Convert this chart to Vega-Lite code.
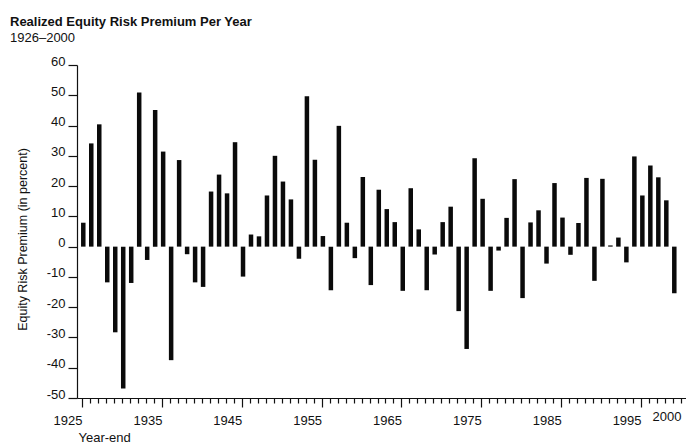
{
  "$schema": "https://vega.github.io/schema/vega-lite/v6.json",
  "autosize": {"type": "none"},
  "padding": {"left": 77, "top": 65, "right": 0, "bottom": 47},
  "width": 609,
  "height": 333,
  "background": "white",
  "view": {"stroke": null},
  "title": {
    "text": "Realized Equity Risk Premium Per Year",
    "subtitle": "1926–2000",
    "anchor": "start",
    "frame": "group",
    "dx": -67,
    "offset": 10,
    "font": "Liberation Sans",
    "fontSize": 13,
    "fontWeight": "bold",
    "color": "#111",
    "subtitleFont": "Liberation Sans",
    "subtitleFontSize": 13,
    "subtitleColor": "#111",
    "subtitlePadding": 3
  },
  "data": {
    "values": [
      {"year": 1926, "premium": 7.9},
      {"year": 1927, "premium": 34.1},
      {"year": 1928, "premium": 40.4},
      {"year": 1929, "premium": -11.8},
      {"year": 1930, "premium": -28.3},
      {"year": 1931, "premium": -46.9},
      {"year": 1932, "premium": -12.0},
      {"year": 1933, "premium": 50.9},
      {"year": 1934, "premium": -4.4},
      {"year": 1935, "premium": 45.1},
      {"year": 1936, "premium": 31.4},
      {"year": 1937, "premium": -37.5},
      {"year": 1938, "premium": 28.6},
      {"year": 1939, "premium": -2.5},
      {"year": 1940, "premium": -11.8},
      {"year": 1941, "premium": -13.3},
      {"year": 1942, "premium": 18.2},
      {"year": 1943, "premium": 23.8},
      {"year": 1944, "premium": 17.6},
      {"year": 1945, "premium": 34.5},
      {"year": 1946, "premium": -9.9},
      {"year": 1947, "premium": 4.0},
      {"year": 1948, "premium": 3.4},
      {"year": 1949, "premium": 16.9},
      {"year": 1950, "premium": 30.0},
      {"year": 1951, "premium": 21.5},
      {"year": 1952, "premium": 15.6},
      {"year": 1953, "premium": -4.0},
      {"year": 1954, "premium": 49.7},
      {"year": 1955, "premium": 28.7},
      {"year": 1956, "premium": 3.5},
      {"year": 1957, "premium": -14.4},
      {"year": 1958, "premium": 39.9},
      {"year": 1959, "premium": 7.9},
      {"year": 1960, "premium": -3.8},
      {"year": 1961, "premium": 23.0},
      {"year": 1962, "premium": -12.7},
      {"year": 1963, "premium": 18.8},
      {"year": 1964, "premium": 12.4},
      {"year": 1965, "premium": 8.1},
      {"year": 1966, "premium": -14.6},
      {"year": 1967, "premium": 19.3},
      {"year": 1968, "premium": 5.7},
      {"year": 1969, "premium": -14.4},
      {"year": 1970, "premium": -2.6},
      {"year": 1971, "premium": 8.1},
      {"year": 1972, "premium": 13.2},
      {"year": 1973, "premium": -21.3},
      {"year": 1974, "premium": -33.8},
      {"year": 1975, "premium": 29.2},
      {"year": 1976, "premium": 15.8},
      {"year": 1977, "premium": -14.6},
      {"year": 1978, "premium": -1.3},
      {"year": 1979, "premium": 9.5},
      {"year": 1980, "premium": 22.3},
      {"year": 1981, "premium": -17.0},
      {"year": 1982, "premium": 8.0},
      {"year": 1983, "premium": 12.0},
      {"year": 1984, "premium": -5.6},
      {"year": 1985, "premium": 21.0},
      {"year": 1986, "premium": 9.6},
      {"year": 1987, "premium": -2.7},
      {"year": 1988, "premium": 7.8},
      {"year": 1989, "premium": 22.7},
      {"year": 1990, "premium": -11.3},
      {"year": 1991, "premium": 22.4},
      {"year": 1992, "premium": 0.4},
      {"year": 1993, "premium": 3.0},
      {"year": 1994, "premium": -5.2},
      {"year": 1995, "premium": 29.8},
      {"year": 1996, "premium": 16.9},
      {"year": 1997, "premium": 26.8},
      {"year": 1998, "premium": 22.9},
      {"year": 1999, "premium": 15.3},
      {"year": 2000, "premium": -15.4}
    ]
  },
  "mark": {"type": "bar", "color": "#0a0a0a", "size": 4.5, "xOffset": -6.7},
  "encoding": {
    "x": {
      "field": "year",
      "type": "quantitative",
      "scale": {"domain": [1925, 2000], "nice": false, "zero": false},
      "axis": {
        "title": "Year-end",
        "titleFont": "Liberation Sans",
        "titleFontSize": 13,
        "titleFontWeight": "normal",
        "titleColor": "#111",
        "titleAnchor": "start",
        "titleAlign": "left",
        "titleBaseline": "alphabetic",
        "titleX": 1,
        "titleY": 43,
        "values": [1925,1926,1927,1928,1929,1930,1931,1932,1933,1934,1935,1936,1937,1938,1939,1940,1941,1942,1943,1944,1945,1946,1947,1948,1949,1950,1951,1952,1953,1954,1955,1956,1957,1958,1959,1960,1961,1962,1963,1964,1965,1966,1967,1968,1969,1970,1971,1972,1973,1974,1975,1976,1977,1978,1979,1980,1981,1982,1983,1984,1985,1986,1987,1988,1989,1990,1991,1992,1993,1994,1995,1996,1997,1998,1999,2000],
        "labelExpr": "(datum.value % 10 === 5 || datum.value === 2000) ? '' + datum.value : ''",
        "labelOverlap": false,
        "labelFlush": false,
        "labelAlign": "right",
        "labelBaseline": "top",
        "labelPadding": 7,
        "labelFont": "Liberation Sans",
        "labelFontSize": 13,
        "labelColor": "#111",
        "grid": false,
        "domainColor": "#111",
        "domainWidth": 1.2,
        "tickColor": "#111",
        "tickWidth": 1.2,
        "tickSize": {"condition": {"test": "datum.value % 10 === 5", "value": 9}, "value": 5}
      }
    },
    "y": {
      "field": "premium",
      "type": "quantitative",
      "scale": {"domain": [-50, 60], "nice": false},
      "axis": {
        "title": "Equity Risk Premium (in percent)",
        "titleFont": "Liberation Sans",
        "titleFontSize": 12.5,
        "titleFontWeight": "normal",
        "titleColor": "#111",
        "titleX": -51,
        "titleY": 174,
        "titleAlign": "center",
        "titleBaseline": "alphabetic",
        "values": [-50,-40,-30,-20,-10,0,10,20,30,40,50,60],
        "labelExpr": "'' + datum.value",
        "labelBaseline": "alphabetic",
        "labelPadding": 3,
        "labelFont": "Liberation Sans",
        "labelFontSize": 13,
        "labelColor": "#111",
        "grid": false,
        "domainColor": "#111",
        "domainWidth": 1.2,
        "tickColor": "#111",
        "tickWidth": 1.2,
        "tickSize": 9
      }
    }
  }
}
